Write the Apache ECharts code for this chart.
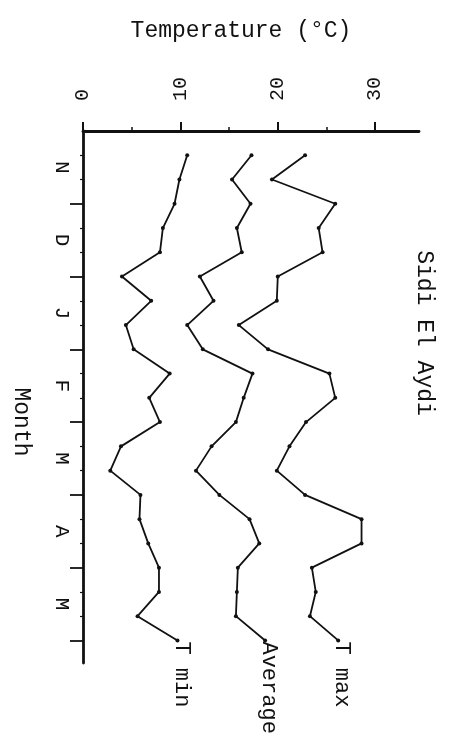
<!DOCTYPE html>
<html>
<head>
<meta charset="utf-8">
<script src="https://cdn.jsdelivr.net/npm/echarts@6/dist/echarts.min.js"></script>
<style>html,body{margin:0;padding:0;background:#fff;}#c{width:451px;height:737px;}</style>
</head>
<body>
<div id="c"></div>
<script>
// Month labels (one per month, Nov -> May)
const months = ['N', 'D', 'J', 'F', 'M', 'A', 'M'];
// Ten-day periods (decades) numbered from the start of November
const decades = [1,2,3,4,5,6,7,8,9,10,11,12,13,14,15,16,17,18,19,20,21];
// Temperatures (°C)
const tMax = [22.8,19.4,25.9,24.2,24.6,20.0,19.9,16.0,19.0,25.3,25.9,22.9,21.2,19.9,22.8,28.6,28.6,23.5,23.9,23.3,26.2];
const tAvg = [17.3,15.3,17.2,15.8,16.3,12.0,13.4,10.7,12.3,17.4,16.5,15.7,13.2,11.6,14.0,17.1,18.1,15.9,15.8,15.7,18.7];
const tMin = [10.7,9.9,9.4,8.2,7.9,4.0,7.0,4.4,5.2,8.9,6.8,7.9,3.9,2.8,5.9,5.8,6.7,7.8,7.8,5.6,9.7];
const tempTicks = [0, 10, 20, 30];
const tempMinorTicks = [5, 15, 25];
const seriesNames = ['T max', 'Average', 'T min'];

const FONT = '"Liberation Mono", "DejaVu Sans Mono", monospace';
const INK = '#111';

const monthPos = decades.map(d => d / 3);
const monthTicks = months.map((m, i) => i + 1);
const monthLabelPos = months.map((m, i) => i + 0.5);
const decadeTicks = decades.filter(d => d % 3 !== 0).map(d => d / 3);

function toData(arr) { return arr.map((v, i) => [v, monthPos[i]]); }

const chart = echarts.init(document.getElementById('c'), null, {renderer: 'canvas'});

const lineSeries = [tMax, tAvg, tMin].map((arr, i) => ({
  name: seriesNames[i],
  type: 'line',
  xAxisIndex: 0, yAxisIndex: 0,
  data: toData(arr),
  symbol: 'circle',
  symbolSize: 4,
  itemStyle: {color: INK},
  lineStyle: {color: INK, width: 1.8},
  animation: false
}));

chart.setOption({
  backgroundColor: '#fff',
  animation: false,
  grid: {left: 83, right: 32, top: 131, bottom: 74},
  xAxis: [{
    type: 'value', position: 'top', min: 0, max: 34.5,
    axisLine: {show: true, onZero: false, lineStyle: {color: INK, width: 2.8}},
    axisTick: {show: true, inside: false, length: 9, customValues: tempTicks, lineStyle: {color: INK, width: 2}},
    axisLabel: {show: true, customValues: tempTicks, rotate: -90, margin: 30, fontSize: 20, fontFamily: FONT, color: INK},
    splitLine: {show: false}
  }, {
    type: 'value', position: 'top', min: 0, max: 34.5,
    axisLine: {show: false},
    axisTick: {show: true, inside: false, length: 4, customValues: tempMinorTicks, lineStyle: {color: INK, width: 1.5}},
    axisLabel: {show: false},
    splitLine: {show: false}
  }],
  yAxis: [{
    type: 'value', position: 'left', inverse: true, min: 0, max: 7.31,
    axisLine: {show: true, onZero: false, lineStyle: {color: INK, width: 2.8}},
    axisTick: {show: true, inside: false, length: 13, customValues: monthTicks, lineStyle: {color: INK, width: 1.8}},
    axisLabel: {show: true, customValues: monthLabelPos, rotate: -90, margin: 11, fontSize: 21, fontFamily: FONT, color: INK,
      formatter: v => months[Math.floor(v)]},
    splitLine: {show: false}
  }, {
    type: 'value', position: 'left', inverse: true, min: 0, max: 7.31,
    axisLine: {show: false},
    axisTick: {show: true, inside: false, length: 3, customValues: decadeTicks, lineStyle: {color: INK, width: 1.2}},
    axisLabel: {show: false},
    splitLine: {show: false}
  }],
  series: lineSeries
});

// Text annotations
const graphics = [
  {type: 'text', x: 241, y: 31, style: {text: 'Temperature (°C)', font: '23px ' + FONT, fill: INK, textAlign: 'center', textVerticalAlign: 'middle'}},
  {type: 'text', x: 424, y: 333, rotation: -Math.PI / 2, style: {text: 'Sidi El Aydi', font: '23px ' + FONT, fill: INK, textAlign: 'center', textVerticalAlign: 'middle'}},
  {type: 'text', x: 21, y: 422, rotation: -Math.PI / 2, style: {text: 'Month', font: '23px ' + FONT, fill: INK, textAlign: 'center', textVerticalAlign: 'middle'}}
];
[tMax, tAvg, tMin].forEach((arr, i) => {
  const last = arr.length - 1;
  const p = chart.convertToPixel({xAxisIndex: 0, yAxisIndex: 0}, [arr[last], monthPos[last]]);
  graphics.push({type: 'text', x: p[0] + 4, y: p[1] + 1, rotation: -Math.PI / 2,
    style: {text: seriesNames[i], font: '22px ' + FONT, fill: INK, textAlign: 'left', textVerticalAlign: 'middle'}});
});
chart.setOption({graphic: graphics});
</script>
</body>
</html>
